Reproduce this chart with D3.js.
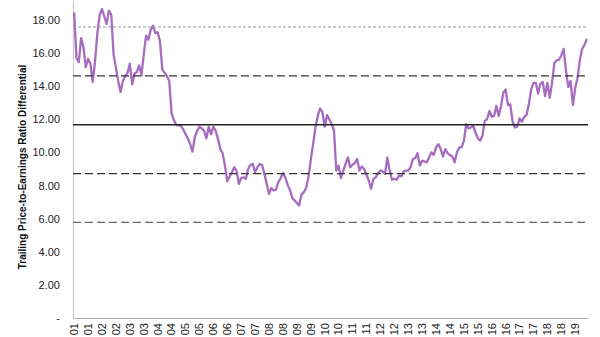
<!DOCTYPE html>
<html>
<head>
<meta charset="utf-8">
<script src="https://cdn.jsdelivr.net/npm/d3@7"></script>
<style>
    body { margin: 0; background: #fff; }
    svg { display: block; font-family: "Liberation Sans", Arial, sans-serif; }
</style>
</head>
<body>
<div id="chart"></div>
<script>
// Monthly trailing P/E differential, Jan 2001 - Jun 2019
const peValues = [
    18.45, 15.7, 15.45, 16.9, 16.35, 15.15, 15.65, 15.35, 14.25, 15.5,
    17.2, 18.3, 18.65, 18.2, 17.75, 18.55, 18.3, 15.9, 15.1, 14.3,
    13.65, 14.3, 14.6, 14.8, 15.35, 14.1, 14.75, 14.85, 15.25, 14.65,
    15.9, 17.05, 16.8, 17.4, 17.65, 17.2, 17.25, 16.7, 15.0, 14.8,
    14.6, 14.3, 12.35, 11.95, 11.65, 11.65, 11.6, 11.4, 11.1, 10.85,
    10.5, 10.05, 10.9, 11.3, 11.55, 11.45, 11.3, 10.85, 11.55, 11.1,
    11.55, 11.3, 10.8, 10.2, 9.95, 9.2, 8.25, 8.55, 8.8, 9.1,
    8.9, 8.1, 8.45, 8.5, 8.4, 9.0, 9.25, 9.3, 8.8, 9.1,
    9.3, 9.25, 8.7, 8.1, 7.5, 7.85, 7.7, 7.75, 8.2, 8.45,
    8.75, 8.5, 8.05, 7.75, 7.25, 7.1, 6.95, 6.8, 7.45, 7.6,
    7.85, 8.5, 9.55, 10.5, 11.5, 12.2, 12.65, 12.45, 11.55, 12.25,
    12.0, 11.7, 11.35, 8.9, 9.2, 8.45, 8.9, 9.3, 9.7, 9.1,
    9.25, 9.35, 9.6, 8.9, 9.15, 9.0, 8.65, 8.3, 7.8, 8.4,
    8.5, 8.75, 8.9, 8.85, 8.7, 9.7, 8.9, 8.35, 8.4, 8.35,
    8.6, 8.55, 8.85, 8.9, 8.9, 9.1, 9.6, 9.65, 9.95, 9.2,
    9.5, 9.45, 9.4, 9.7, 10.0, 9.85, 10.3, 10.5, 10.2, 9.75,
    10.2, 9.95, 9.85, 9.75, 9.4, 10.0, 10.3, 10.3, 10.7, 11.7,
    11.45, 11.5, 11.6, 11.2, 10.85, 10.7, 11.0, 11.9, 12.0, 12.5,
    12.15, 12.2, 12.8, 12.2, 12.8, 13.6, 13.8, 12.85, 12.9, 11.85,
    11.5, 11.55, 12.05, 11.85, 12.15, 12.25, 12.9, 13.8, 14.2, 14.2,
    13.55, 14.15, 14.25, 13.4, 14.2, 13.3, 14.2, 15.4, 15.55, 15.6,
    15.85, 16.25, 14.95, 13.95, 14.3, 12.85, 13.9, 14.5, 15.6, 16.25,
    16.5, 16.85
];

// Half-year tick labels (Jan and Jul of each year)
const xTickLabels = [
    "01", "01", "02", "02", "03", "03", "04", "04", "05", "05",
    "06", "06", "07", "07", "08", "08", "09", "09", "10", "10",
    "11", "11", "12", "12", "13", "13", "14", "14", "15", "15",
    "16", "16", "17", "17", "18", "18", "19"
];
const xTickEvery = 6;

const yTicks = [0, 2, 4, 6, 8, 10, 12, 14, 16, 18];

// Average and +/- 1 and 2 standard deviations
const refNames = ["+2sd", "+1sd", "avg", "-1sd", "-2sd"];
const refValues = [17.57, 14.62, 11.67, 8.72, 5.77];

const yTitle = "Trailing Price-to-Earnings Ratio Differential";

// Layout
const W = 600, H = 337;
const plot = { left: 73, right: 588, top: 0, bottom: 318 };

const svg = d3.select('#chart')
    .append('svg')
    .attr('width', W)
    .attr('height', H);

const xScale = d3.scaleBand()
    .domain(d3.range(peValues.length))
    .range([plot.left, plot.right]);

const xc = i => xScale(i) + xScale.bandwidth() / 2;

const yScale = d3.scaleLinear()
    .domain([0, 19.2])
    .range([plot.bottom, plot.top]);

// Y axis (labels only, plus light axis line)
const yAxis = d3.axisLeft(yScale)
    .tickValues(yTicks)
    .tickSize(0)
    .tickPadding(13)
    .tickFormat(d => d === 0 ? '-' : d3.format('.2f')(d));

const gy = svg.append('g')
    .attr('transform', `translate(${plot.left},0)`)
    .call(yAxis);
gy.select('.domain').attr('stroke', '#c8c8c8').attr('stroke-width', 1.2);
gy.selectAll('text')
    .attr('fill', '#222')
    .style('font-size', '11px');

// X axis
const xAxis = d3.axisBottom(xScale)
    .tickValues(d3.range(0, peValues.length, xTickEvery))
    .tickSize(0)
    .tickFormat(d => xTickLabels[d / xTickEvery]);

const gx = svg.append('g')
    .attr('transform', `translate(0,${plot.bottom})`)
    .call(xAxis);
gx.select('.domain').attr('stroke', '#b0b0b0').attr('stroke-width', 1.2);
gx.selectAll('text')
    .attr('fill', '#222')
    .style('font-size', '11px')
    .attr('transform', 'rotate(-90)')
    .attr('x', -5)
    .attr('y', 0)
    .attr('dy', '0.35em')
    .style('text-anchor', 'end');

// Y axis title
svg.append('text')
    .attr('transform', `translate(22,${(plot.top + plot.bottom) / 2 + 8}) rotate(-90)`)
    .attr('text-anchor', 'middle')
    .attr('dy', '0.35em')
    .style('font-size', '10px')
    .style('font-weight', 'bold')
    .attr('fill', '#111')
    .text(yTitle);

// P/E line
const line = d3.line()
    .x((d, i) => xc(i))
    .y(d => yScale(d));

svg.append('path')
    .datum(peValues)
    .attr('fill', 'none')
    .attr('stroke', '#a66cbf')
    .attr('stroke-width', 2.3)
    .attr('stroke-linejoin', 'round')
    .attr('d', line);

// Reference lines
const refStyle = {
    "+2sd": { stroke: '#9a9a9a', width: 1, dash: '3,2' },
    "+1sd": { stroke: '#333', width: 1.3, dash: '8,4' },
    "avg": { stroke: '#222', width: 1.6, dash: null },
    "-1sd": { stroke: '#333', width: 1.3, dash: '8,4' },
    "-2sd": { stroke: '#666', width: 1.3, dash: '8,4' }
};

refNames.forEach((name, k) => {
    const s = refStyle[name];
    svg.append('line')
        .attr('x1', plot.left)
        .attr('x2', plot.right)
        .attr('y1', yScale(refValues[k]))
        .attr('y2', yScale(refValues[k]))
        .attr('stroke', s.stroke)
        .attr('stroke-width', s.width)
        .attr('stroke-dasharray', s.dash);
});
</script>
</body>
</html>
